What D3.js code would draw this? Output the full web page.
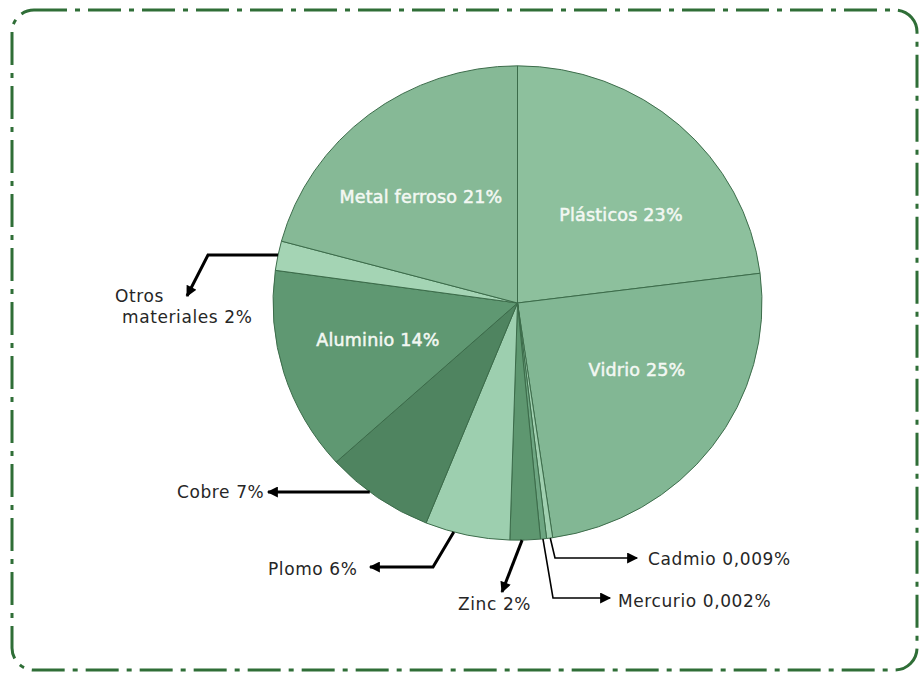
<html>
  <head>
	<meta charset="utf-8">
	<title>Composición de residuos</title>
	<script src="https://d3js.org/d3.v7.min.js"></script>
	<style>
	  body { margin: 0; background: #fff; }
	</style>
  </head>
  <body>

  <svg width="922" height="673"></svg>

	<script type="text/javascript">

    // datos (de arriba, sentido horario)
    var materiales = ["Plásticos", "Vidrio", "Cadmio", "Mercurio", "Zinc", "Plomo", "Cobre", "Aluminio", "Otros materiales", "Metal ferroso"];
    var etiquetas = ["Plásticos 23%", "Vidrio 25%", "Cadmio 0,009%", "Mercurio 0,002%", "Zinc 2%", "Plomo 6%", "Cobre 7%", "Aluminio 14%", "Otros materiales 2%", "Metal ferroso 21%"];
    // porción dibujada en el gráfico original
    var porcion = [23, 24.7, 0.4, 0.4, 2, 5.6, 7.2, 13.9, 2, 20.8];
    var colores = ["#8dc09d", "#82b794", "#a0d0b0", "#6ea682", "#5e9770", "#9dcfaf", "#4f8460", "#5f9872", "#a4d4b4", "#86b996"];

    var datos = materiales.map(function(m, i) {
        return {nombre: m, etiqueta: etiquetas[i], valor: porcion[i], color: colores[i]};
    });

    var svg = d3.select("svg");

    // marco punto-raya
    svg.append("rect")
    .attr("x", 12).attr("y", 10)
    .attr("width", 905).attr("height", 660)
    .attr("rx", 22).attr("ry", 22)
    .attr("fill", "none")
    .attr("stroke", "#2f6e37")
    .attr("stroke-width", 3)
    .attr("stroke-dasharray", "33,8,5,8");

    var cx = 517.5, cy = 303, radio = 244.5, sy = 0.97;

    var pie = d3.pie().sort(null).value(d => d.valor);
    var arco = d3.arc().innerRadius(0).outerRadius(radio);
    var arcos = pie(datos);

    var grupo = svg.append("g")
    .attr("transform", "translate(" + cx + "," + cy + ") scale(1," + sy + ")");

    grupo.selectAll("path")
    .data(arcos)
    .enter()
    .append("path")
    .attr("d", arco)
    .attr("fill", d => d.data.color)
    .attr("stroke", "#3b6b49")
    .attr("stroke-width", 1);

    // punto en el borde de una porción (en coordenadas de la página)
    function borde(nombre, f) {
        var a = arcos.find(d => d.data.nombre == nombre);
        var ang = a.startAngle + (a.endAngle - a.startAngle) * f;
        return [cx + radio * Math.sin(ang), cy - radio * Math.cos(ang) * sy];
    }
    // borde izquierdo del círculo a una altura dada
    function bordeIzq(y) {
        var t = (y - cy) / (radio * sy);
        return [cx - radio * Math.sqrt(1 - t * t), y];
    }

    // etiquetas internas
    var internas = [
        {nombre: "Metal ferroso", x: 421, y: 203},
        {nombre: "Plásticos", x: 621, y: 221},
        {nombre: "Vidrio", x: 637, y: 376},
        {nombre: "Aluminio", x: 378, y: 346}
    ];
    svg.selectAll("text.interna")
    .data(internas)
    .enter()
    .append("text")
    .attr("class", "interna")
    .attr("x", d => d.x).attr("y", d => d.y)
    .attr("text-anchor", "middle")
    .attr("font-family", "DejaVu Sans, Verdana, sans-serif")
    .attr("font-size", 17.5)
    .attr("letter-spacing", 0.2)
    .attr("fill", "#f3f8f3")
    .attr("stroke", "#f3f8f3")
    .attr("stroke-width", 0.5)
    .text(d => datos.find(e => e.nombre == d.nombre).etiqueta);

    // flechas
    var defs = svg.append("defs");
    defs.append("marker")
    .attr("id", "punta")
    .attr("viewBox", "0 0 10 10")
    .attr("refX", 9).attr("refY", 5)
    .attr("markerWidth", 14).attr("markerHeight", 11)
    .attr("markerUnits", "userSpaceOnUse")
    .attr("orient", "auto")
    .append("path")
    .attr("d", "M0,0 L10,5 L0,10 z")
    .attr("fill", "#000");

    var externas = [
        {nombre: "Otros materiales", codo: [[208, 255]], punta: [187, 296], ancho: 3, izq: true},
        {nombre: "Cobre", codo: [], punta: [268, 492], ancho: 3, izq: true},
        {nombre: "Plomo", f: 0.66, codo: [[433, 567]], punta: [370, 567], ancho: 3},
        {nombre: "Zinc", f: 0.6, codo: [], punta: [502, 592], ancho: 3},
        {nombre: "Cadmio", f: 0.4, codo: [[555, 558]], punta: [637, 558], ancho: 1.6},
        {nombre: "Mercurio", f: 0.6, codo: [[553, 598]], punta: [610, 598], ancho: 1.6}
    ];

    externas.forEach(function(e) {
        var p0;
        if (e.izq) {
            var yy = e.codo.length ? e.codo[0][1] : e.punta[1];
            p0 = bordeIzq(yy);
        } else {
            p0 = borde(e.nombre, e.f);
        }
        var puntos = [p0].concat(e.codo).concat([e.punta]);
        svg.append("path")
        .attr("d", d3.line()(puntos))
        .attr("fill", "none")
        .attr("stroke", "#000")
        .attr("stroke-width", e.ancho)
        .attr("marker-end", "url(#punta)");
    });

    // textos externos
    var textos = [
        {t: "Otros", x: 115, y: 302},
        {t: "materiales 2%", x: 122, y: 323},
        {t: etiquetas[6], x: 177, y: 498},
        {t: etiquetas[5], x: 268, y: 575},
        {t: etiquetas[4], x: 458, y: 610},
        {t: etiquetas[2], x: 648, y: 565},
        {t: etiquetas[3], x: 618, y: 607}
    ];
    svg.selectAll("text.externa")
    .data(textos)
    .enter()
    .append("text")
    .attr("class", "externa")
    .attr("x", d => d.x).attr("y", d => d.y)
    .attr("font-family", "DejaVu Sans, Verdana, sans-serif")
    .attr("font-size", 17)
    .attr("letter-spacing", 0.6)
    .attr("fill", "#262626")
    .text(d => d.t);

	</script>
  </body>

</html>
